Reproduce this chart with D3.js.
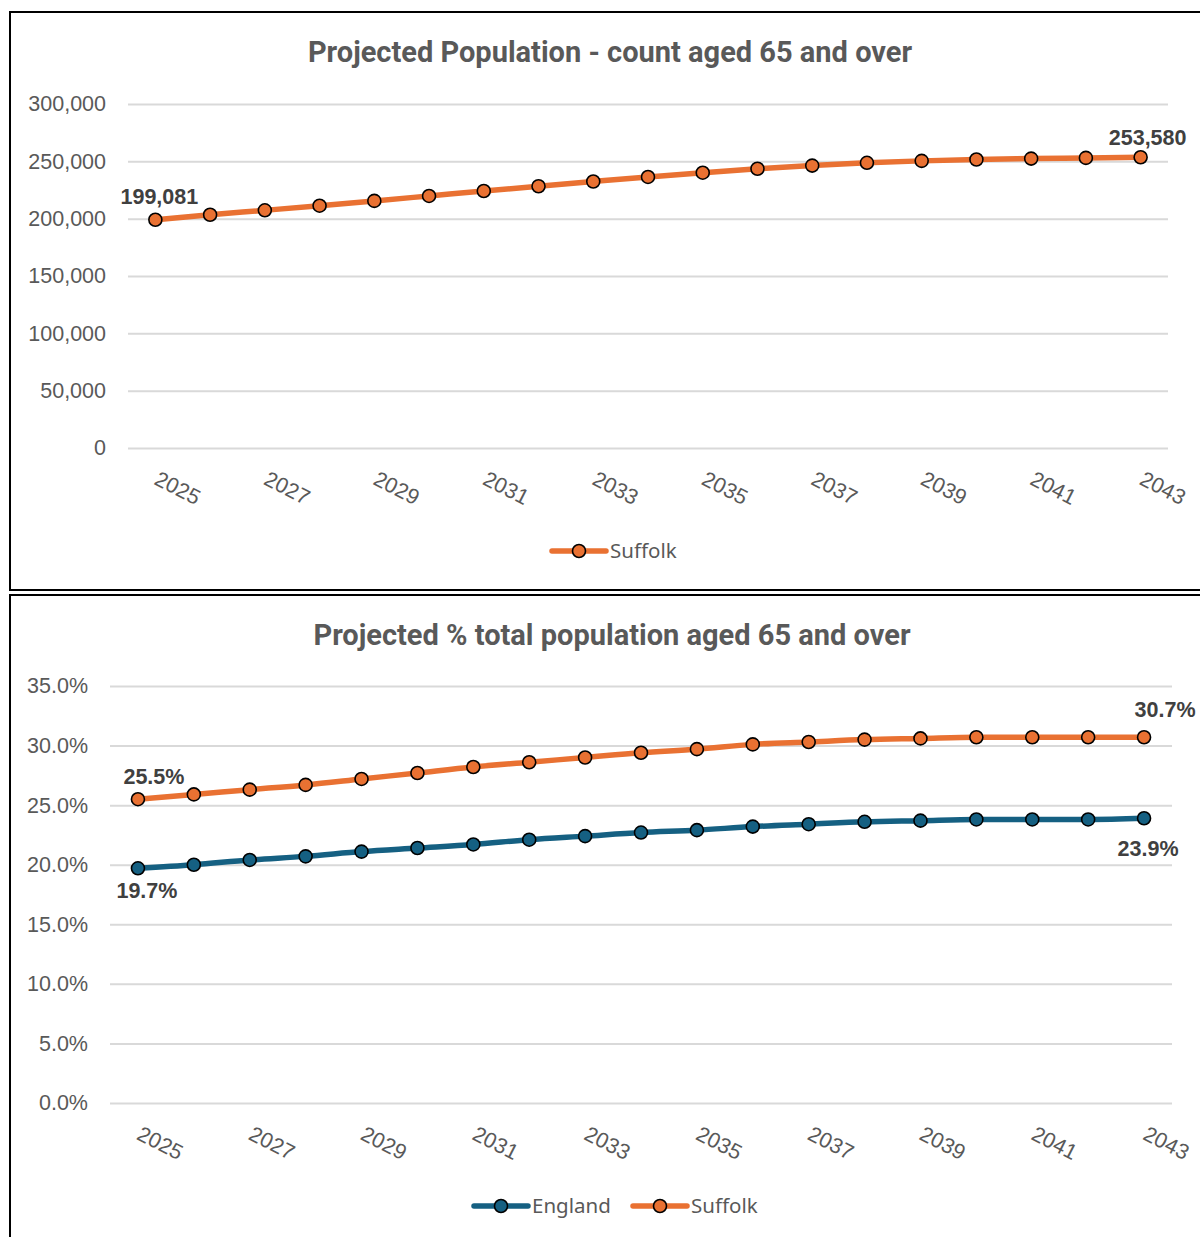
<!DOCTYPE html>
<html>
<head>
<meta charset="utf-8">
<script src="https://cdn.jsdelivr.net/npm/d3@7"></script>
<style>
  html, body { margin: 0; padding: 0; background: #fff; }
  svg { display: block; }
</style>
</head>
<body>
<svg id="root" width="1200" height="1237"></svg>
<script>
// Projection years
const years = [2025, 2026, 2027, 2028, 2029, 2030, 2031, 2032, 2033, 2034,
               2035, 2036, 2037, 2038, 2039, 2040, 2041, 2042, 2043];

// Suffolk: count aged 65 and over
const suffolkCount = [199081, 203400, 207300, 211300, 215500, 219800, 224100, 228300, 232400, 236400,
                      240100, 243500, 246300, 248700, 250400, 251600, 252400, 253000, 253580];

// Share of total population aged 65 and over (%)
const suffolkPct = [25.5, 25.9, 26.3, 26.7, 27.2, 27.7, 28.2, 28.6, 29.0, 29.4,
                    29.7, 30.1, 30.3, 30.5, 30.6, 30.7, 30.7, 30.7, 30.7];
const englandPct = [19.7, 20.0, 20.4, 20.7, 21.1, 21.4, 21.7, 22.1, 22.4, 22.7,
                    22.9, 23.2, 23.4, 23.6, 23.7, 23.8, 23.8, 23.8, 23.9];

// Axis ticks
const countTicks = [0, 50000, 100000, 150000, 200000, 250000, 300000];
const pctTicks = [0, 5, 10, 15, 20, 25, 30, 35];
const yearTicks = years.filter(y => (y - 2025) % 2 === 0);

const ORANGE = "#E97132";
const BLUE = "#156082";
const TEXT = "#595959";
const LABEL = "#404040";
const GRID = "#D9D9D9";

const svg = d3.select("#root");

function drawChart(cfg) {
  const g = svg.append("g");

  // chart frame
  g.append("rect")
    .attr("x", cfg.frame.x).attr("y", cfg.frame.y)
    .attr("width", cfg.frame.w).attr("height", cfg.frame.h)
    .attr("fill", "#fff").attr("stroke", "#000").attr("stroke-width", 2);

  // title
  g.append("text")
    .attr("x", cfg.titleX).attr("y", cfg.titleY)
    .attr("text-anchor", "middle")
    .attr("font-family", "'Roboto', sans-serif")
    .attr("font-weight", "bold")
    .attr("font-size", 29)
    .attr("fill", TEXT)
    .text(cfg.title);

  const x = d3.scaleBand().domain(years).range([cfg.left, cfg.right]);
  const y = d3.scaleLinear().domain(cfg.domain).range([cfg.bottom, cfg.top]);

  // horizontal gridlines + y labels
  const yAxis = d3.axisLeft(y).tickValues(cfg.ticks).tickSize(-(cfg.right - cfg.left))
    .tickFormat(cfg.tickFormat).tickPadding(22);
  const ya = g.append("g").attr("transform", `translate(${cfg.left},0)`).call(yAxis);
  ya.select(".domain").remove();
  ya.selectAll(".tick line").attr("stroke", GRID).attr("stroke-width", 2);
  ya.selectAll(".tick text")
    .attr("font-family", "'Liberation Sans', Arial, sans-serif")
    .attr("font-size", 21.5).attr("fill", TEXT);

  // x labels (rotated)
  const xAxis = d3.axisBottom(x).tickValues(yearTicks).tickSize(0).tickFormat(d3.format("d"));
  const xa = g.append("g").attr("transform", `translate(0,${cfg.bottom})`).call(xAxis);
  xa.select(".domain").remove();
  xa.selectAll(".tick text")
    .attr("font-family", "'Liberation Sans', Arial, sans-serif")
    .attr("font-size", 21.5).attr("fill", TEXT)
    .attr("text-anchor", "start")
    .attr("dy", 0)
    .attr("transform", "translate(-1,33) rotate(27)");

  const cx = d => x(d) + x.bandwidth() / 2;

  cfg.series.forEach(s => {
    const pts = years.map((yr, i) => ({ yr, v: s.values[i] }));
    const line = d3.line().x(d => cx(d.yr)).y(d => y(d.v)).curve(d3.curveMonotoneX);
    g.append("path").datum(pts)
      .attr("d", line).attr("fill", "none")
      .attr("stroke", s.color).attr("stroke-width", 5.5).attr("stroke-linecap", "round");
    g.selectAll(null).data(pts).enter().append("circle")
      .attr("cx", d => cx(d.yr)).attr("cy", d => y(d.v)).attr("r", 6.5)
      .attr("fill", s.color).attr("stroke", "#000").attr("stroke-width", 1.6);

    // end labels
    s.labels.forEach(l => {
      const i = l.index;
      g.append("text")
        .attr("x", cx(years[i]) + l.dx).attr("y", y(s.values[i]) + l.dy)
        .attr("text-anchor", "middle")
        .attr("font-family", "'Liberation Sans', Arial, sans-serif")
        .attr("font-weight", "bold").attr("font-size", 21.5)
        .attr("fill", LABEL)
        .text(cfg.labelFormat(s.values[i]));
    });
  });

  // legend
  cfg.legend.forEach(l => {
    const lg = g.append("g");
    lg.append("line").attr("x1", l.x).attr("x2", l.x + 54)
      .attr("y1", cfg.legendY).attr("y2", cfg.legendY)
      .attr("stroke", l.color).attr("stroke-width", 5.5).attr("stroke-linecap", "round");
    lg.append("circle").attr("cx", l.x + 27).attr("cy", cfg.legendY).attr("r", 6.5)
      .attr("fill", l.color).attr("stroke", "#000").attr("stroke-width", 1.6);
    lg.append("text").attr("x", l.x + 58).attr("y", cfg.legendY + 7)
      .attr("font-family", "'Noto Sans', sans-serif").attr("font-size", 20.5)
      .attr("fill", TEXT).text(l.name);
  });
}

drawChart({
  frame: { x: 10, y: 12, w: 1205, h: 578 },
  title: "Projected Population - count aged 65 and over",
  titleX: 610, titleY: 62,
  left: 128, right: 1168, top: 104, bottom: 448,
  domain: [0, 300000],
  ticks: countTicks,
  tickFormat: d3.format(","),
  labelFormat: d3.format(","),
  series: [
    { name: "Suffolk", color: ORANGE, values: suffolkCount,
      labels: [{ index: 0, dx: 4, dy: -16 }, { index: 18, dx: 7, dy: -12 }] }
  ],
  legendY: 551,
  legend: [{ name: "Suffolk", color: ORANGE, x: 552 }]
});

drawChart({
  frame: { x: 10, y: 595, w: 1205, h: 650 },
  title: "Projected % total population aged 65 and over",
  titleX: 612, titleY: 645,
  left: 110, right: 1172, top: 686, bottom: 1103,
  domain: [0, 35],
  ticks: pctTicks,
  tickFormat: d => d3.format(".1f")(d) + "%",
  labelFormat: d => d3.format(".1f")(d) + "%",
  series: [
    { name: "England", color: BLUE, values: englandPct,
      labels: [{ index: 0, dx: 9, dy: 30 }, { index: 18, dx: 4, dy: 38 }] },
    { name: "Suffolk", color: ORANGE, values: suffolkPct,
      labels: [{ index: 0, dx: 16, dy: -15 }, { index: 18, dx: 21, dy: -20 }] }
  ],
  legendY: 1206,
  legend: [
    { name: "England", color: BLUE, x: 474 },
    { name: "Suffolk", color: ORANGE, x: 633 }
  ]
});
</script>
</body>
</html>
